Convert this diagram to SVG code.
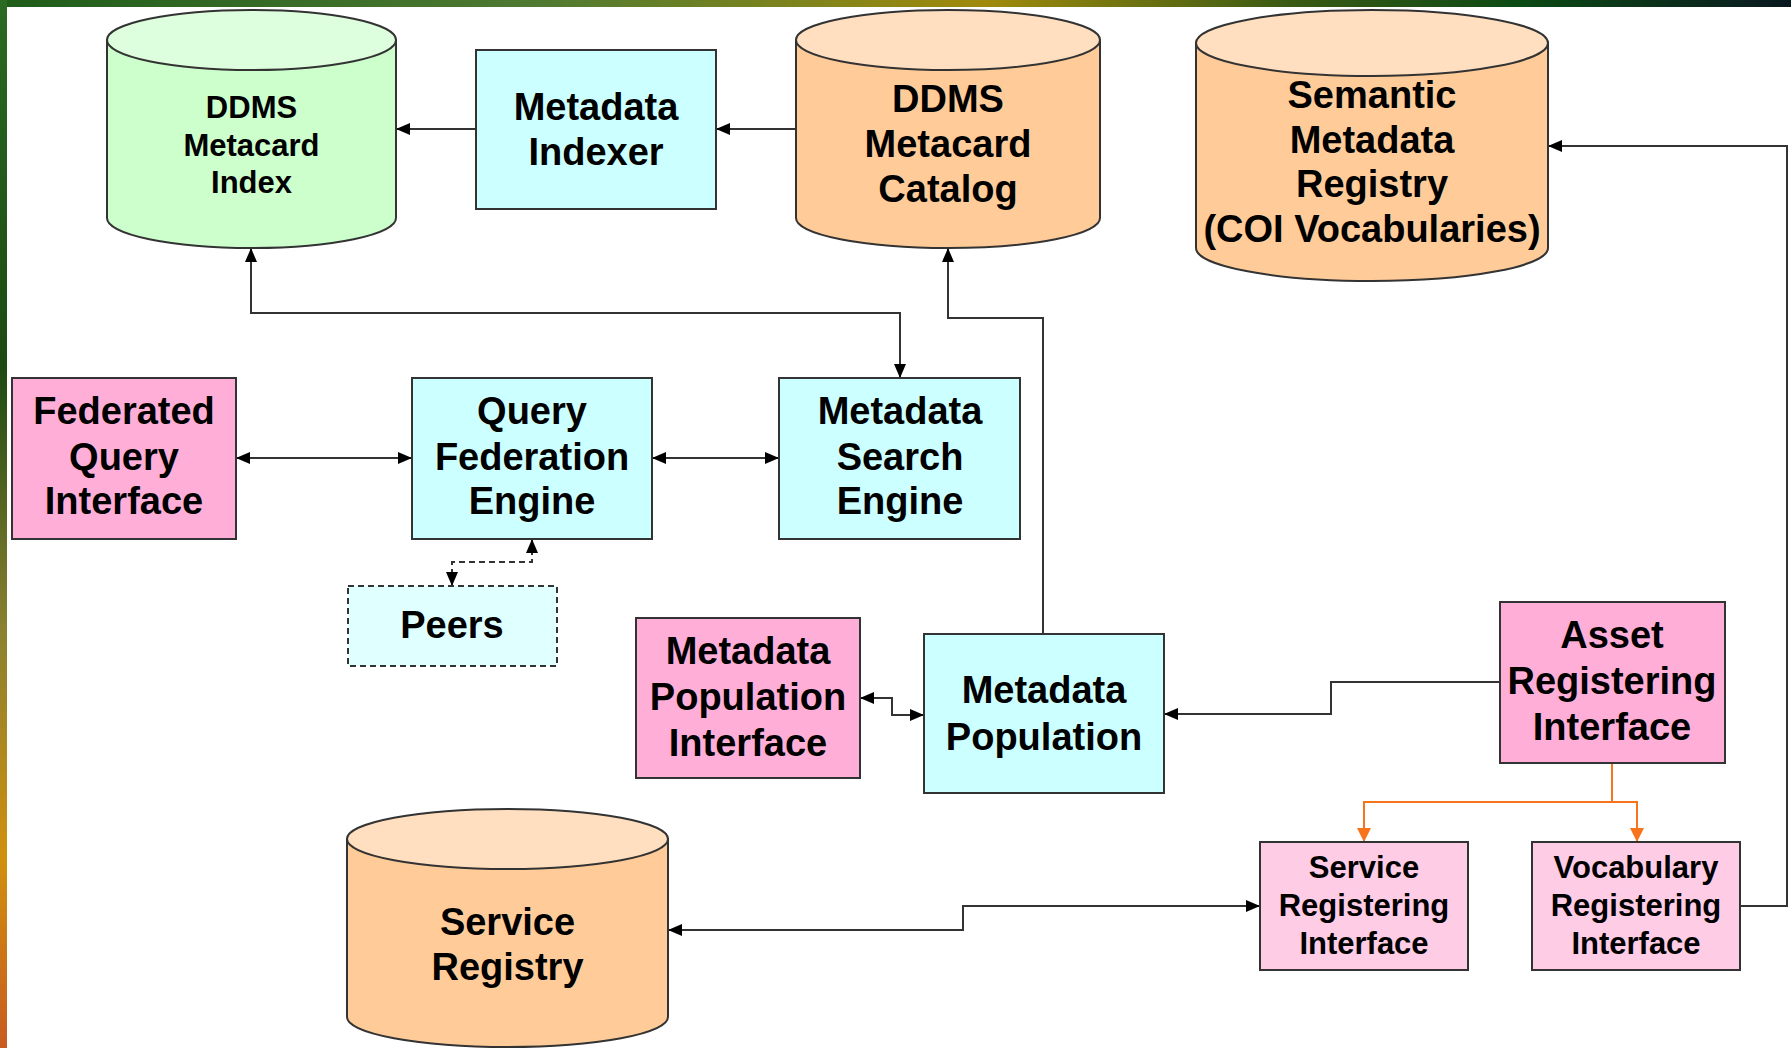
<svg xmlns="http://www.w3.org/2000/svg" width="1791" height="1048" viewBox="0 0 1791 1048">
<style>
.lbl{font-family:"Liberation Sans",Arial,sans-serif;font-weight:bold;font-size:38px;fill:#000;text-anchor:middle}
.sm{font-size:31px}
.box{stroke:#333;stroke-width:2}
.pink{fill:#FFAFD7}
.lpink{fill:#FFCCE6}
.cyan{fill:#CCFFFF}
.conn{fill:none;stroke:#333;stroke-width:2}
.orange{fill:none;stroke:#F7741C;stroke-width:2}
</style>
<defs>
<linearGradient id="topg" x1="0" y1="0" x2="1" y2="0">
<stop offset="0" stop-color="#1E5C1A"/>
<stop offset="0.3" stop-color="#4F7A32"/>
<stop offset="0.55" stop-color="#A08A0C"/>
<stop offset="0.72" stop-color="#3A5A14"/>
<stop offset="0.85" stop-color="#0C4A14"/>
<stop offset="1" stop-color="#0A1820"/>
</linearGradient>
<linearGradient id="leftg" x1="0" y1="0" x2="0" y2="1">
<stop offset="0" stop-color="#2A6A22"/>
<stop offset="0.35" stop-color="#1C4A12"/>
<stop offset="0.6" stop-color="#8A8030"/>
<stop offset="0.82" stop-color="#D0900E"/>
<stop offset="1" stop-color="#C85A20"/>
</linearGradient>
<marker id="ah" markerUnits="userSpaceOnUse" markerWidth="14" markerHeight="12" refX="14" refY="6" orient="auto-start-reverse">
<path d="M0,0 L14,6 L0,12 z" fill="#000"/>
</marker>
<marker id="ahO" markerUnits="userSpaceOnUse" markerWidth="14" markerHeight="14" refX="14" refY="7" orient="auto">
<path d="M0,0 L14,7 L0,14 z" fill="#F7741C"/>
</marker>
</defs>
<rect x="0" y="0" width="1791" height="1048" fill="#fff"/>
<rect x="0" y="0" width="1791" height="7" fill="url(#topg)"/>
<rect x="0" y="0" width="7" height="1048" fill="url(#leftg)"/>

<g id="connectors">
<path class="conn" d="M476,129 L396,129" marker-end="url(#ah)"/>
<path class="conn" d="M796,129 L716,129" marker-end="url(#ah)"/>
<path class="conn" d="M251,248 L251,313 L900,313 L900,378" marker-start="url(#ah)" marker-end="url(#ah)"/>
<path class="conn" d="M1043,634 L1043,318 L948,318 L948,248" marker-end="url(#ah)"/>
<path class="conn" d="M236,458 L412,458" marker-start="url(#ah)" marker-end="url(#ah)"/>
<path class="conn" d="M652,458 L779,458" marker-start="url(#ah)" marker-end="url(#ah)"/>
<path class="conn" d="M532,539 L532,562 L452,562 L452,586" stroke-dasharray="6,4" marker-start="url(#ah)" marker-end="url(#ah)"/>
<path class="conn" d="M860,698 L892,698 L892,715 L924,715" marker-start="url(#ah)" marker-end="url(#ah)"/>
<path class="conn" d="M1500,682 L1331,682 L1331,714 L1164,714" marker-end="url(#ah)"/>
<path class="orange" d="M1612,763 L1612,802 L1364,802 L1364,842" marker-end="url(#ahO)"/>
<path class="orange" d="M1612,802 L1637,802 L1637,842" marker-end="url(#ahO)"/>
<path class="conn" d="M1740,906 L1787,906 L1787,146 L1548,146" marker-end="url(#ah)"/>
<path class="conn" d="M668,930 L963,930 L963,906 L1260,906" marker-start="url(#ah)" marker-end="url(#ah)"/>
</g>

<g id="ddms-metacard-index">
<path class="box" d="M107,40 L107,218 A144.5,30 0 0 0 396,218 L396,40 Z" fill="#CCFFCC"/>
<ellipse class="box" cx="251.5" cy="40" rx="144.5" ry="30" fill="#DDFFDD"/>
<text class="lbl sm" x="251.5" y="118">DDMS</text>
<text class="lbl sm" x="251.5" y="156">Metacard</text>
<text class="lbl sm" x="251.5" y="193">Index</text>
</g>

<g id="metadata-indexer">
<rect class="box cyan" x="476" y="50" width="240" height="159"/>
<text class="lbl" x="596" y="120">Metadata</text>
<text class="lbl" x="596" y="165">Indexer</text>
</g>

<g id="ddms-metacard-catalog">
<path class="box" d="M796,40 L796,218 A152,30 0 0 0 1100,218 L1100,40 Z" fill="#FFCC99"/>
<ellipse class="box" cx="948" cy="40" rx="152" ry="30" fill="#FFDFC0"/>
<text class="lbl" x="948" y="112">DDMS</text>
<text class="lbl" x="948" y="157">Metacard</text>
<text class="lbl" x="948" y="202">Catalog</text>
</g>

<g id="semantic-metadata-registry">
<path class="box" d="M1196,43 L1196,248 A176,33 0 0 0 1548,248 L1548,43 Z" fill="#FFCC99"/>
<ellipse class="box" cx="1372" cy="43" rx="176" ry="33" fill="#FFDFC0"/>
<text class="lbl" x="1372" y="108">Semantic</text>
<text class="lbl" x="1372" y="153">Metadata</text>
<text class="lbl" x="1372" y="197">Registry</text>
<text class="lbl" x="1372" y="242">(COI Vocabularies)</text>
</g>

<g id="federated-query-interface">
<rect class="box pink" x="12" y="378" width="224" height="161"/>
<text class="lbl" x="124" y="424">Federated</text>
<text class="lbl" x="124" y="470">Query</text>
<text class="lbl" x="124" y="514">Interface</text>
</g>

<g id="query-federation-engine">
<rect class="box cyan" x="412" y="378" width="240" height="161"/>
<text class="lbl" x="532" y="424">Query</text>
<text class="lbl" x="532" y="470">Federation</text>
<text class="lbl" x="532" y="514">Engine</text>
</g>

<g id="metadata-search-engine">
<rect class="box cyan" x="779" y="378" width="241" height="161"/>
<text class="lbl" x="900" y="424">Metadata</text>
<text class="lbl" x="900" y="470">Search</text>
<text class="lbl" x="900" y="514">Engine</text>
</g>

<g id="peers">
<rect x="348" y="586" width="209" height="80" fill="#E0FFFF" stroke="#333" stroke-width="2" stroke-dasharray="6,4"/>
<text class="lbl" x="452" y="638">Peers</text>
</g>

<g id="metadata-population-interface">
<rect class="box pink" x="636" y="618" width="224" height="160"/>
<text class="lbl" x="748" y="664">Metadata</text>
<text class="lbl" x="748" y="710">Population</text>
<text class="lbl" x="748" y="756">Interface</text>
</g>

<g id="metadata-population">
<rect class="box cyan" x="924" y="634" width="240" height="159"/>
<text class="lbl" x="1044" y="703">Metadata</text>
<text class="lbl" x="1044" y="750">Population</text>
</g>

<g id="asset-registering-interface">
<rect class="box pink" x="1500" y="602" width="225" height="161"/>
<text class="lbl" x="1612" y="648">Asset</text>
<text class="lbl" x="1612" y="694">Registering</text>
<text class="lbl" x="1612" y="740">Interface</text>
</g>

<g id="service-registering-interface">
<rect class="box lpink" x="1260" y="842" width="208" height="128"/>
<text class="lbl sm" x="1364" y="878">Service</text>
<text class="lbl sm" x="1364" y="916">Registering</text>
<text class="lbl sm" x="1364" y="954">Interface</text>
</g>

<g id="vocabulary-registering-interface">
<rect class="box lpink" x="1532" y="842" width="208" height="128"/>
<text class="lbl sm" x="1636" y="878">Vocabulary</text>
<text class="lbl sm" x="1636" y="916">Registering</text>
<text class="lbl sm" x="1636" y="954">Interface</text>
</g>

<g id="service-registry">
<path class="box" d="M347,839 L347,1017 A160.5,30 0 0 0 668,1017 L668,839 Z" fill="#FFCC99"/>
<ellipse class="box" cx="507.5" cy="839" rx="160.5" ry="30" fill="#FFDFC0"/>
<text class="lbl" x="507.5" y="935">Service</text>
<text class="lbl" x="507.5" y="980">Registry</text>
</g>
</svg>
